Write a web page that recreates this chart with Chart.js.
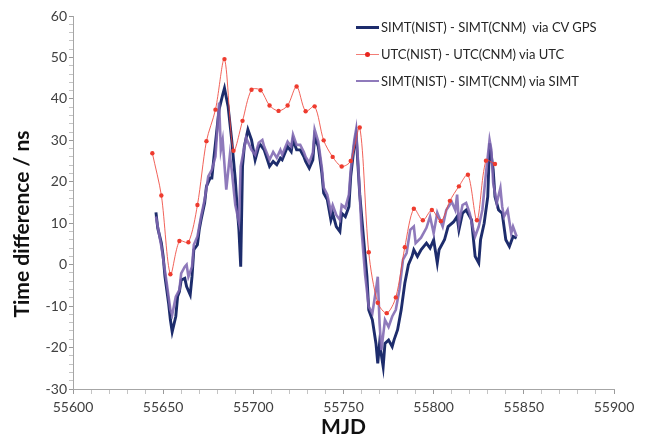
<!DOCTYPE html>
<html><head><meta charset="utf-8">
<script src="https://cdn.jsdelivr.net/npm/chart.js@4.4.0/dist/chart.umd.min.js"></script>
<style>
html,body{margin:0;padding:0;background:#fff;}
#wrap{position:relative;width:646px;height:438px;}
#legend{position:absolute;left:356px;top:14px;font-family:Lato,sans-serif;font-size:13px;color:#262626;}
.item{position:relative;height:26.8px;display:flex;align-items:center;white-space:pre;}
.sw{width:23px;height:10px;position:relative;margin-right:2px;}
.ln{position:absolute;left:0;right:0;top:50%;}
.dot{position:absolute;left:9px;top:3px;width:5px;height:5px;border-radius:50%;background:#e8251e;}
</style></head>
<body><div id="wrap"><canvas id="c" width="646" height="438"></canvas><div id="legend"></div></div>
<script>
// ---- data ----
const mjdCV = [55646,55647,55649,55650,55651,55653,55654,55655,55657,55658,55659,55660,55662,55663,55665,55666,55667,55669,55670,55671,55673,55674,55676,55677,55678,55679,55680,55681,55683,55684,55686,55688,55690,55691,55692,55693,55694,55695,55697,55699,55701,55703,55704,55706,55709,55711,55713,55715,55716,55719,55721,55722,55724,55726,55728,55729,55731,55733,55734,55736,55738,55739,55741,55743,55744,55746,55748,55749,55751,55753,55754,55756,55757,55758,55759,55761,55763,55764,55766,55768,55769,55770,55772,55773,55775,55777,55778,55780,55782,55784,55786,55788,55789,55791,55793,55796,55798,55800,55802,55803,55806,55808,55811,55813,55814,55816,55818,55821,55823,55825,55826,55828,55830,55831,55833,55834,55836,55838,55840,55842,55844,55846];
const valCV = [12.6,8.8,5.2,2.0,-2.9,-9.3,-13.3,-16.2,-12.5,-7.7,-6.5,-3.7,-3.3,-5.3,-7.3,-2.9,3.6,4.8,8.4,10.8,14.9,18.9,20.9,20.9,25.3,29.3,33.4,37.4,41.0,42.6,38.2,30.1,20.5,14.0,8.4,-0.5,23.7,28.5,32.6,30.1,25.3,28.5,28.9,27.7,23.7,24.9,24.1,25.7,25.3,28.5,27.3,30.1,27.7,27.7,26.1,24.9,23.3,25.3,30.9,28.5,22.1,17.3,15.7,10.8,12.4,9.2,8.0,12.4,11.6,14.0,21.3,28.9,31.4,24.1,17.0,7.0,-2.9,-10.9,-13.3,-19.0,-23.8,-19.0,-24.6,-19.0,-18.2,-19.8,-18.2,-15.7,-10.9,-4.5,0.0,2.0,3.6,2.0,3.6,5.2,4.0,6.0,0.4,3.6,6.0,9.2,10.3,11.6,8.4,12.4,13.2,10.8,2.0,0.4,6.0,10.0,16.4,29.3,22.9,16.4,13.2,12.4,6.0,4.4,6.8,6.4];

const mjdSIMT = [55646,55649,55652,55654,55655,55657,55659,55660,55662,55663,55664,55666,55667,55669,55671,55673,55675,55677,55679,55680,55681,55682,55683,55685,55687,55688,55690,55692,55693,55696,55699,55701,55703,55705,55706,55709,55711,55713,55715,55716,55719,55721,55722,55724,55726,55728,55729,55731,55733,55734,55736,55738,55739,55741,55743,55744,55746,55748,55749,55751,55753,55754,55756,55757,55758,55760,55762,55764,55766,55768,55769,55770,55771,55773,55775,55777,55779,55781,55783,55785,55787,55789,55790,55793,55796,55798,55800,55802,55805,55807,55810,55812,55813,55814,55816,55818,55820,55822,55823,55825,55827,55829,55831,55832,55833,55835,55837,55838,55839,55841,55843,55844,55846];
const valSIMT = [11.6,4.4,-4.5,-10.9,-12.1,-7.7,-6.1,-2.1,-0.5,0.0,-2.9,-0.5,4.8,6.8,11.6,15.7,21.3,22.9,26.1,32.6,39.1,27.7,30.1,18.1,26.5,22.9,14.4,10.3,23.7,30.6,27.7,26.5,29.4,30.1,28.5,25.3,27.2,25.8,27.7,26.5,29.7,28.5,31.4,28.9,28.9,27.2,26.0,24.6,27.0,32.6,29.7,23.4,18.6,16.9,12.8,14.4,12.0,10.8,14.4,13.7,16.9,22.9,30.1,32.6,25.3,8.4,-2.5,-10.1,-11.7,-6.1,-2.9,-14.1,-20.6,-13.3,-15.0,-12.5,-10.9,-6.1,1.2,2.8,8.4,9.2,5.2,6.5,8.9,11.6,7.6,12.5,9.2,13.2,15.2,13.2,16.9,10.0,14.4,14.9,12.4,8.4,6.8,9.2,13.2,22.1,30.1,27.7,19.7,14.9,18.5,14.0,11.6,13.2,7.6,9.2,6.8];

const mjdUTC = [55644,55649,55654,55659,55664,55669,55674,55679,55684,55689,55694,55699,55704,55709,55714,55719,55724,55729,55734,55739,55744,55749,55754,55759,55764,55769,55774,55779,55784,55789,55794,55799,55804,55809,55814,55819,55824,55829,55834];
const valUTC = [26.9,16.7,-2.3,5.7,5.4,14.4,29.8,37.4,49.6,27.5,34.7,42.2,42.1,38.4,37.1,38.4,43.0,37.0,38.2,30.0,26.0,23.7,25.0,33.1,3.0,-9.2,-11.7,-7.9,4.2,13.5,10.7,13.2,10.5,15.4,18.9,21.7,10.7,25.1,24.3];

const seriesLabels = ['SIMT(NIST) - SIMT(CNM)  via CV GPS','UTC(NIST) - UTC(CNM) via UTC','SIMT(NIST) - SIMT(CNM) via SIMT'];
const xMin = 55600, xMax = 55900, xMinor = 10, xMajor = 50;
const yMin = -30, yMax = 60, yMinor = 2, yMajor = 10;
const xTitle = 'MJD', yTitle = 'Time difference / ns';

const BLUE = '#1d2c6c', RED = '#ee3b2e', PURPLE = 'rgba(128,104,178,0.88)';
const pts = (xs, ys) => xs.map((x, i) => ({x, y: ys[i]}));

const yTitlePlugin = {
  id: 'yTitle',
  afterDraw(chart) {
    const ctx = chart.ctx;
    ctx.save();
    ctx.translate(22, 224);
    ctx.rotate(-Math.PI / 2);
    ctx.font = 'bold 21px Lato, sans-serif';
    ctx.fillStyle = '#111';
    ctx.textAlign = 'center';
    ctx.textBaseline = 'middle';
    ctx.fillText(yTitle, 0, 0);
    ctx.restore();
  }
};

new Chart(document.getElementById('c'), {
  type: 'line',
  data: {
    datasets: [
      {label: seriesLabels[1], data: pts(mjdUTC, valUTC), borderColor: 'rgba(238,70,60,0.85)', borderWidth: 1,
       pointRadius: 2.2, pointBackgroundColor: RED, pointBorderWidth: 0, tension: 0.3, order: 0},
      {label: seriesLabels[2], data: pts(mjdSIMT, valSIMT), borderColor: PURPLE, borderWidth: 2.6,
       pointRadius: 0, tension: 0, order: 1},
      {label: seriesLabels[0], data: pts(mjdCV, valCV), borderColor: BLUE, borderWidth: 2.9,
       pointRadius: 0, tension: 0, order: 2}
    ]
  },
  options: {
    responsive: false, animation: false, devicePixelRatio: 1,
    layout: {padding: {left: 0, right: 32, top: 16, bottom: 0}},
    plugins: {legend: {display: false}, tooltip: {enabled: false}},
    scales: {
      x: {
        type: 'linear', min: xMin, max: xMax,
        ticks: {stepSize: xMinor, autoSkip: false, maxRotation: 0, padding: 5,
                callback: v => (v % xMajor === 0 ? String(v) : ''),
                color: '#404040', font: {family: 'Lato', size: 14}},
        grid: {drawOnChartArea: false, tickLength: 5,
               tickColor: c => (c.tick && c.tick.value % xMajor === 0 ? '#9a9a9a' : '#c4c4c4')},
        border: {color: '#a6a6a6'},
        title: {display: true, text: xTitle, color: '#111',
                font: {family: 'Lato', size: 21, weight: 'bold', lineHeight: 1}, padding: {top: 0, bottom: 0}},
        afterFit(s) { s.height = 49; }
      },
      y: {
        min: yMin, max: yMax,
        ticks: {stepSize: yMinor, autoSkip: false, padding: 2,
                callback: v => (v % yMajor === 0 ? String(v) : ''),
                color: '#404040', font: {family: 'Lato', size: 14}},
        grid: {drawOnChartArea: false, tickLength: 4,
               tickColor: c => (c.tick && c.tick.value % yMajor === 0 ? '#9a9a9a' : '#c4c4c4')},
        border: {color: '#a6a6a6'},
        afterFit(s) { s.width = 73; }
      }
    }
  },
  plugins: [yTitlePlugin]
});

// HTML legend
const legend = document.getElementById('legend');
const sw = [
  '<div class="sw"><div class="ln" style="height:3px;margin-top:-1.5px;background:' + BLUE + '"></div></div>',
  '<div class="sw"><div class="ln" style="height:1px;margin-top:-0.5px;background:rgba(238,70,60,0.7)"></div><div class="dot"></div></div>',
  '<div class="sw"><div class="ln" style="height:2px;margin-top:-1px;background:' + PURPLE + '"></div></div>'
];
seriesLabels.forEach((t, i) => {
  const d = document.createElement('div');
  d.className = 'item';
  d.innerHTML = sw[i] + '<span></span>';
  d.querySelector('span').textContent = t;
  legend.appendChild(d);
});
</script>
</body></html>
